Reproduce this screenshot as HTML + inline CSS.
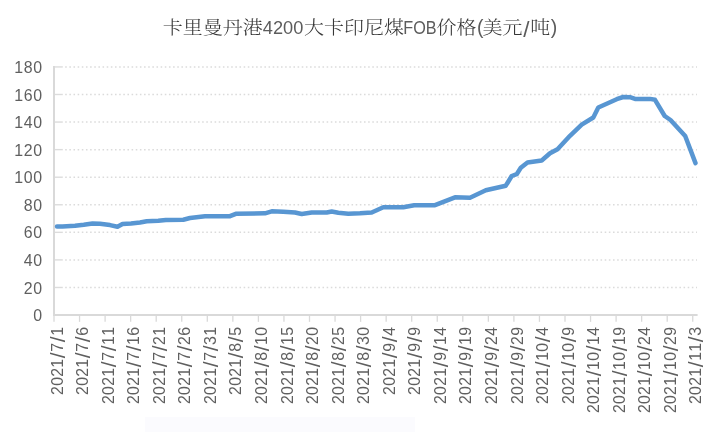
<!DOCTYPE html>
<html lang="zh"><head><meta charset="utf-8"><title>卡里曼丹港4200大卡印尼煤FOB价格</title>
<style>
html,body{margin:0;padding:0;background:#fff;}
body{width:720px;height:432px;overflow:hidden;}
svg{display:block;will-change:transform;}
.ax{font-family:"Liberation Sans",sans-serif;font-size:15.9px;fill:#5f5f5f;}
.sl{font-size:21px;}
.tl{font-family:"Liberation Sans",sans-serif;font-weight:400;fill:#5c5c5c;}
.tc{font-family:"Noto Serif CJK SC","Noto Serif CJK TC","Noto Serif CJK JP",serif;font-size:20px;font-weight:300;fill:#363636;}
</style></head><body>
<svg width="720" height="432" viewBox="0 0 720 432">
<rect width="720" height="432" fill="#ffffff"/>
<rect x="145" y="417" width="270" height="15" fill="#fbfbfe"/>

<line x1="65.2" y1="287.48" x2="697" y2="287.48" stroke="#dbdbdb" stroke-width="1.5" stroke-dasharray="1.55 2.6"/>
<line x1="54.0" y1="287.48" x2="62.8" y2="287.48" stroke="#dcdcdc" stroke-width="1.4"/>
<line x1="65.2" y1="259.91" x2="697" y2="259.91" stroke="#dbdbdb" stroke-width="1.5" stroke-dasharray="1.55 2.6"/>
<line x1="54.0" y1="259.91" x2="62.8" y2="259.91" stroke="#dcdcdc" stroke-width="1.4"/>
<line x1="65.2" y1="232.34" x2="697" y2="232.34" stroke="#dbdbdb" stroke-width="1.5" stroke-dasharray="1.55 2.6"/>
<line x1="54.0" y1="232.34" x2="62.8" y2="232.34" stroke="#dcdcdc" stroke-width="1.4"/>
<line x1="65.2" y1="204.77" x2="697" y2="204.77" stroke="#dbdbdb" stroke-width="1.5" stroke-dasharray="1.55 2.6"/>
<line x1="54.0" y1="204.77" x2="62.8" y2="204.77" stroke="#dcdcdc" stroke-width="1.4"/>
<line x1="65.2" y1="177.20" x2="697" y2="177.20" stroke="#dbdbdb" stroke-width="1.5" stroke-dasharray="1.55 2.6"/>
<line x1="54.0" y1="177.20" x2="62.8" y2="177.20" stroke="#dcdcdc" stroke-width="1.4"/>
<line x1="65.2" y1="149.63" x2="697" y2="149.63" stroke="#dbdbdb" stroke-width="1.5" stroke-dasharray="1.55 2.6"/>
<line x1="54.0" y1="149.63" x2="62.8" y2="149.63" stroke="#dcdcdc" stroke-width="1.4"/>
<line x1="65.2" y1="122.06" x2="697" y2="122.06" stroke="#dbdbdb" stroke-width="1.5" stroke-dasharray="1.55 2.6"/>
<line x1="54.0" y1="122.06" x2="62.8" y2="122.06" stroke="#dcdcdc" stroke-width="1.4"/>
<line x1="65.2" y1="94.49" x2="697" y2="94.49" stroke="#dbdbdb" stroke-width="1.5" stroke-dasharray="1.55 2.6"/>
<line x1="54.0" y1="94.49" x2="62.8" y2="94.49" stroke="#dcdcdc" stroke-width="1.4"/>
<line x1="65.2" y1="66.92" x2="697" y2="66.92" stroke="#dbdbdb" stroke-width="1.5" stroke-dasharray="1.55 2.6"/>
<line x1="54.0" y1="66.92" x2="62.8" y2="66.92" stroke="#dcdcdc" stroke-width="1.4"/>
<line x1="54.0" y1="66.02" x2="54.0" y2="316.05" stroke="#d9d9d9" stroke-width="2"/>
<line x1="53.0" y1="315.05" x2="697.6" y2="315.05" stroke="#d9d9d9" stroke-width="2"/>
<line x1="54.00" y1="315.05" x2="54.00" y2="321.85" stroke="#d9d9d9" stroke-width="1.3"/>
<line x1="79.55" y1="315.05" x2="79.55" y2="321.85" stroke="#d9d9d9" stroke-width="1.3"/>
<line x1="105.10" y1="315.05" x2="105.10" y2="321.85" stroke="#d9d9d9" stroke-width="1.3"/>
<line x1="130.65" y1="315.05" x2="130.65" y2="321.85" stroke="#d9d9d9" stroke-width="1.3"/>
<line x1="156.20" y1="315.05" x2="156.20" y2="321.85" stroke="#d9d9d9" stroke-width="1.3"/>
<line x1="181.75" y1="315.05" x2="181.75" y2="321.85" stroke="#d9d9d9" stroke-width="1.3"/>
<line x1="207.30" y1="315.05" x2="207.30" y2="321.85" stroke="#d9d9d9" stroke-width="1.3"/>
<line x1="232.85" y1="315.05" x2="232.85" y2="321.85" stroke="#d9d9d9" stroke-width="1.3"/>
<line x1="258.40" y1="315.05" x2="258.40" y2="321.85" stroke="#d9d9d9" stroke-width="1.3"/>
<line x1="283.95" y1="315.05" x2="283.95" y2="321.85" stroke="#d9d9d9" stroke-width="1.3"/>
<line x1="309.50" y1="315.05" x2="309.50" y2="321.85" stroke="#d9d9d9" stroke-width="1.3"/>
<line x1="335.05" y1="315.05" x2="335.05" y2="321.85" stroke="#d9d9d9" stroke-width="1.3"/>
<line x1="360.60" y1="315.05" x2="360.60" y2="321.85" stroke="#d9d9d9" stroke-width="1.3"/>
<line x1="386.15" y1="315.05" x2="386.15" y2="321.85" stroke="#d9d9d9" stroke-width="1.3"/>
<line x1="411.70" y1="315.05" x2="411.70" y2="321.85" stroke="#d9d9d9" stroke-width="1.3"/>
<line x1="437.25" y1="315.05" x2="437.25" y2="321.85" stroke="#d9d9d9" stroke-width="1.3"/>
<line x1="462.80" y1="315.05" x2="462.80" y2="321.85" stroke="#d9d9d9" stroke-width="1.3"/>
<line x1="488.35" y1="315.05" x2="488.35" y2="321.85" stroke="#d9d9d9" stroke-width="1.3"/>
<line x1="513.90" y1="315.05" x2="513.90" y2="321.85" stroke="#d9d9d9" stroke-width="1.3"/>
<line x1="539.45" y1="315.05" x2="539.45" y2="321.85" stroke="#d9d9d9" stroke-width="1.3"/>
<line x1="565.00" y1="315.05" x2="565.00" y2="321.85" stroke="#d9d9d9" stroke-width="1.3"/>
<line x1="590.55" y1="315.05" x2="590.55" y2="321.85" stroke="#d9d9d9" stroke-width="1.3"/>
<line x1="616.10" y1="315.05" x2="616.10" y2="321.85" stroke="#d9d9d9" stroke-width="1.3"/>
<line x1="641.65" y1="315.05" x2="641.65" y2="321.85" stroke="#d9d9d9" stroke-width="1.3"/>
<line x1="667.20" y1="315.05" x2="667.20" y2="321.85" stroke="#d9d9d9" stroke-width="1.3"/>
<line x1="692.75" y1="315.05" x2="692.75" y2="321.85" stroke="#d9d9d9" stroke-width="1.3"/>
<text class="ax" x="33.25" y="321.12">0</text>
<text class="ax" x="23.80 33.25" y="293.55">20</text>
<text class="ax" x="23.80 33.25" y="265.98">40</text>
<text class="ax" x="23.80 33.25" y="238.41">60</text>
<text class="ax" x="23.80 33.25" y="210.84">80</text>
<text class="ax" x="14.35 23.80 33.25" y="183.27">100</text>
<text class="ax" x="14.35 23.80 33.25" y="155.70">120</text>
<text class="ax" x="14.35 23.80 33.25" y="128.13">140</text>
<text class="ax" x="14.35 23.80 33.25" y="100.56">160</text>
<text class="ax" x="14.35 23.80 33.25" y="72.99">180</text>
<text class="ax" transform="translate(62.62,326.9) rotate(-90)"><tspan x="-68.00 -58.95 -49.90 -40.85" y="0">2021</tspan><tspan class="sl" x="-31.37" y="2.0">/</tspan><tspan x="-24.90" y="0">7</tspan><tspan class="sl" x="-15.42" y="2.0">/</tspan><tspan x="-8.95" y="0">1</tspan></text>
<text class="ax" transform="translate(88.17,326.9) rotate(-90)"><tspan x="-68.00 -58.95 -49.90 -40.85" y="0">2021</tspan><tspan class="sl" x="-31.37" y="2.0">/</tspan><tspan x="-24.90" y="0">7</tspan><tspan class="sl" x="-15.42" y="2.0">/</tspan><tspan x="-8.95" y="0">6</tspan></text>
<text class="ax" transform="translate(113.72,326.9) rotate(-90)"><tspan x="-77.05 -68.00 -58.95 -49.90" y="0">2021</tspan><tspan class="sl" x="-40.42" y="2.0">/</tspan><tspan x="-33.95" y="0">7</tspan><tspan class="sl" x="-24.47" y="2.0">/</tspan><tspan x="-18.00 -8.95" y="0">11</tspan></text>
<text class="ax" transform="translate(139.27,326.9) rotate(-90)"><tspan x="-77.05 -68.00 -58.95 -49.90" y="0">2021</tspan><tspan class="sl" x="-40.42" y="2.0">/</tspan><tspan x="-33.95" y="0">7</tspan><tspan class="sl" x="-24.47" y="2.0">/</tspan><tspan x="-18.00 -8.95" y="0">16</tspan></text>
<text class="ax" transform="translate(164.82,326.9) rotate(-90)"><tspan x="-77.05 -68.00 -58.95 -49.90" y="0">2021</tspan><tspan class="sl" x="-40.42" y="2.0">/</tspan><tspan x="-33.95" y="0">7</tspan><tspan class="sl" x="-24.47" y="2.0">/</tspan><tspan x="-18.00 -8.95" y="0">21</tspan></text>
<text class="ax" transform="translate(190.37,326.9) rotate(-90)"><tspan x="-77.05 -68.00 -58.95 -49.90" y="0">2021</tspan><tspan class="sl" x="-40.42" y="2.0">/</tspan><tspan x="-33.95" y="0">7</tspan><tspan class="sl" x="-24.47" y="2.0">/</tspan><tspan x="-18.00 -8.95" y="0">26</tspan></text>
<text class="ax" transform="translate(215.92,326.9) rotate(-90)"><tspan x="-77.05 -68.00 -58.95 -49.90" y="0">2021</tspan><tspan class="sl" x="-40.42" y="2.0">/</tspan><tspan x="-33.95" y="0">7</tspan><tspan class="sl" x="-24.47" y="2.0">/</tspan><tspan x="-18.00 -8.95" y="0">31</tspan></text>
<text class="ax" transform="translate(241.47,326.9) rotate(-90)"><tspan x="-68.00 -58.95 -49.90 -40.85" y="0">2021</tspan><tspan class="sl" x="-31.37" y="2.0">/</tspan><tspan x="-24.90" y="0">8</tspan><tspan class="sl" x="-15.42" y="2.0">/</tspan><tspan x="-8.95" y="0">5</tspan></text>
<text class="ax" transform="translate(267.02,326.9) rotate(-90)"><tspan x="-77.05 -68.00 -58.95 -49.90" y="0">2021</tspan><tspan class="sl" x="-40.42" y="2.0">/</tspan><tspan x="-33.95" y="0">8</tspan><tspan class="sl" x="-24.47" y="2.0">/</tspan><tspan x="-18.00 -8.95" y="0">10</tspan></text>
<text class="ax" transform="translate(292.57,326.9) rotate(-90)"><tspan x="-77.05 -68.00 -58.95 -49.90" y="0">2021</tspan><tspan class="sl" x="-40.42" y="2.0">/</tspan><tspan x="-33.95" y="0">8</tspan><tspan class="sl" x="-24.47" y="2.0">/</tspan><tspan x="-18.00 -8.95" y="0">15</tspan></text>
<text class="ax" transform="translate(318.12,326.9) rotate(-90)"><tspan x="-77.05 -68.00 -58.95 -49.90" y="0">2021</tspan><tspan class="sl" x="-40.42" y="2.0">/</tspan><tspan x="-33.95" y="0">8</tspan><tspan class="sl" x="-24.47" y="2.0">/</tspan><tspan x="-18.00 -8.95" y="0">20</tspan></text>
<text class="ax" transform="translate(343.67,326.9) rotate(-90)"><tspan x="-77.05 -68.00 -58.95 -49.90" y="0">2021</tspan><tspan class="sl" x="-40.42" y="2.0">/</tspan><tspan x="-33.95" y="0">8</tspan><tspan class="sl" x="-24.47" y="2.0">/</tspan><tspan x="-18.00 -8.95" y="0">25</tspan></text>
<text class="ax" transform="translate(369.22,326.9) rotate(-90)"><tspan x="-77.05 -68.00 -58.95 -49.90" y="0">2021</tspan><tspan class="sl" x="-40.42" y="2.0">/</tspan><tspan x="-33.95" y="0">8</tspan><tspan class="sl" x="-24.47" y="2.0">/</tspan><tspan x="-18.00 -8.95" y="0">30</tspan></text>
<text class="ax" transform="translate(394.77,326.9) rotate(-90)"><tspan x="-68.00 -58.95 -49.90 -40.85" y="0">2021</tspan><tspan class="sl" x="-31.37" y="2.0">/</tspan><tspan x="-24.90" y="0">9</tspan><tspan class="sl" x="-15.42" y="2.0">/</tspan><tspan x="-8.95" y="0">4</tspan></text>
<text class="ax" transform="translate(420.32,326.9) rotate(-90)"><tspan x="-68.00 -58.95 -49.90 -40.85" y="0">2021</tspan><tspan class="sl" x="-31.37" y="2.0">/</tspan><tspan x="-24.90" y="0">9</tspan><tspan class="sl" x="-15.42" y="2.0">/</tspan><tspan x="-8.95" y="0">9</tspan></text>
<text class="ax" transform="translate(445.87,326.9) rotate(-90)"><tspan x="-77.05 -68.00 -58.95 -49.90" y="0">2021</tspan><tspan class="sl" x="-40.42" y="2.0">/</tspan><tspan x="-33.95" y="0">9</tspan><tspan class="sl" x="-24.47" y="2.0">/</tspan><tspan x="-18.00 -8.95" y="0">14</tspan></text>
<text class="ax" transform="translate(471.42,326.9) rotate(-90)"><tspan x="-77.05 -68.00 -58.95 -49.90" y="0">2021</tspan><tspan class="sl" x="-40.42" y="2.0">/</tspan><tspan x="-33.95" y="0">9</tspan><tspan class="sl" x="-24.47" y="2.0">/</tspan><tspan x="-18.00 -8.95" y="0">19</tspan></text>
<text class="ax" transform="translate(496.97,326.9) rotate(-90)"><tspan x="-77.05 -68.00 -58.95 -49.90" y="0">2021</tspan><tspan class="sl" x="-40.42" y="2.0">/</tspan><tspan x="-33.95" y="0">9</tspan><tspan class="sl" x="-24.47" y="2.0">/</tspan><tspan x="-18.00 -8.95" y="0">24</tspan></text>
<text class="ax" transform="translate(522.52,326.9) rotate(-90)"><tspan x="-77.05 -68.00 -58.95 -49.90" y="0">2021</tspan><tspan class="sl" x="-40.42" y="2.0">/</tspan><tspan x="-33.95" y="0">9</tspan><tspan class="sl" x="-24.47" y="2.0">/</tspan><tspan x="-18.00 -8.95" y="0">29</tspan></text>
<text class="ax" transform="translate(548.07,326.9) rotate(-90)"><tspan x="-77.05 -68.00 -58.95 -49.90" y="0">2021</tspan><tspan class="sl" x="-40.42" y="2.0">/</tspan><tspan x="-33.95 -24.90" y="0">10</tspan><tspan class="sl" x="-15.42" y="2.0">/</tspan><tspan x="-8.95" y="0">4</tspan></text>
<text class="ax" transform="translate(573.62,326.9) rotate(-90)"><tspan x="-77.05 -68.00 -58.95 -49.90" y="0">2021</tspan><tspan class="sl" x="-40.42" y="2.0">/</tspan><tspan x="-33.95 -24.90" y="0">10</tspan><tspan class="sl" x="-15.42" y="2.0">/</tspan><tspan x="-8.95" y="0">9</tspan></text>
<text class="ax" transform="translate(599.17,326.9) rotate(-90)"><tspan x="-86.10 -77.05 -68.00 -58.95" y="0">2021</tspan><tspan class="sl" x="-49.47" y="2.0">/</tspan><tspan x="-43.00 -33.95" y="0">10</tspan><tspan class="sl" x="-24.47" y="2.0">/</tspan><tspan x="-18.00 -8.95" y="0">14</tspan></text>
<text class="ax" transform="translate(624.72,326.9) rotate(-90)"><tspan x="-86.10 -77.05 -68.00 -58.95" y="0">2021</tspan><tspan class="sl" x="-49.47" y="2.0">/</tspan><tspan x="-43.00 -33.95" y="0">10</tspan><tspan class="sl" x="-24.47" y="2.0">/</tspan><tspan x="-18.00 -8.95" y="0">19</tspan></text>
<text class="ax" transform="translate(650.27,326.9) rotate(-90)"><tspan x="-86.10 -77.05 -68.00 -58.95" y="0">2021</tspan><tspan class="sl" x="-49.47" y="2.0">/</tspan><tspan x="-43.00 -33.95" y="0">10</tspan><tspan class="sl" x="-24.47" y="2.0">/</tspan><tspan x="-18.00 -8.95" y="0">24</tspan></text>
<text class="ax" transform="translate(675.82,326.9) rotate(-90)"><tspan x="-86.10 -77.05 -68.00 -58.95" y="0">2021</tspan><tspan class="sl" x="-49.47" y="2.0">/</tspan><tspan x="-43.00 -33.95" y="0">10</tspan><tspan class="sl" x="-24.47" y="2.0">/</tspan><tspan x="-18.00 -8.95" y="0">29</tspan></text>
<text class="ax" transform="translate(701.37,326.9) rotate(-90)"><tspan x="-77.05 -68.00 -58.95 -49.90" y="0">2021</tspan><tspan class="sl" x="-40.42" y="2.0">/</tspan><tspan x="-33.95 -24.90" y="0">11</tspan><tspan class="sl" x="-15.42" y="2.0">/</tspan><tspan x="-8.95" y="0">3</tspan></text>
<polyline fill="none" stroke="#5896d2" stroke-width="4.5" stroke-linejoin="round" stroke-linecap="round" points="57,226.5 62.5,226.4 75,225.75 83.75,224.75 92.5,223.5 100,223.8 110,225.1 117.5,226.7 122.5,224 131,223.5 140,222.5 146.7,221.3 158.3,220.8 165.8,220 183.3,219.7 190,218 205,216.3 230,216.2 235.8,213.8 265,213.3 271.7,211.3 283.3,211.7 295,212.5 301.7,214 311.7,212.5 326.7,212.5 331.7,211.5 338.3,212.7 348.3,213.7 360,213.3 371.7,212.5 383.3,207.3 403.3,207.2 414.2,205.2 435,205.2 455,197.3 470,197.7 485.8,190.3 505.8,185.7 511.7,176 516.7,174.2 520.8,167.8 527.5,162.5 541.7,160.5 550,153.3 557.5,149.2 570,135.8 581.7,124.7 593.3,117.5 598.3,107.5 616.7,99.2 623.3,97 630,97.2 635,98.9 650,98.9 655,99.8 664.7,116 670.5,120 685.2,136 695.5,163.1"/>
<text class="tc" transform="translate(0,34.20) scale(1,0.89)"><tspan x="162.80 182.80 202.80 222.80 242.80" y="0">卡里曼丹港</tspan><tspan class="tl" x="262.80" y="-0.34" style="font-size:21.35px" textLength="40.5" lengthAdjust="spacingAndGlyphs">4200</tspan><tspan x="304.10 324.10 344.10 364.10 384.10" y="0">大卡印尼煤</tspan><tspan class="tl" x="403.30" y="-0.34" style="font-size:20.45px" textLength="33.3" lengthAdjust="spacingAndGlyphs">FOB</tspan><tspan x="436.60 456.60" y="0">价格</tspan><tspan class="tl" x="477.05" y="-0.11" style="font-size:21.91px" textLength="6.49" lengthAdjust="spacingAndGlyphs">(</tspan><tspan x="482.60 502.60" y="0">美元</tspan><tspan class="tl" x="523.32" y="2.58" style="font-size:25.28px" textLength="6.25" lengthAdjust="spacingAndGlyphs">/</tspan><tspan x="530.30" y="0">吨</tspan><tspan class="tl" x="550.75" y="-0.11" style="font-size:21.91px" textLength="6.49" lengthAdjust="spacingAndGlyphs">)</tspan></text>
</svg></body></html>
